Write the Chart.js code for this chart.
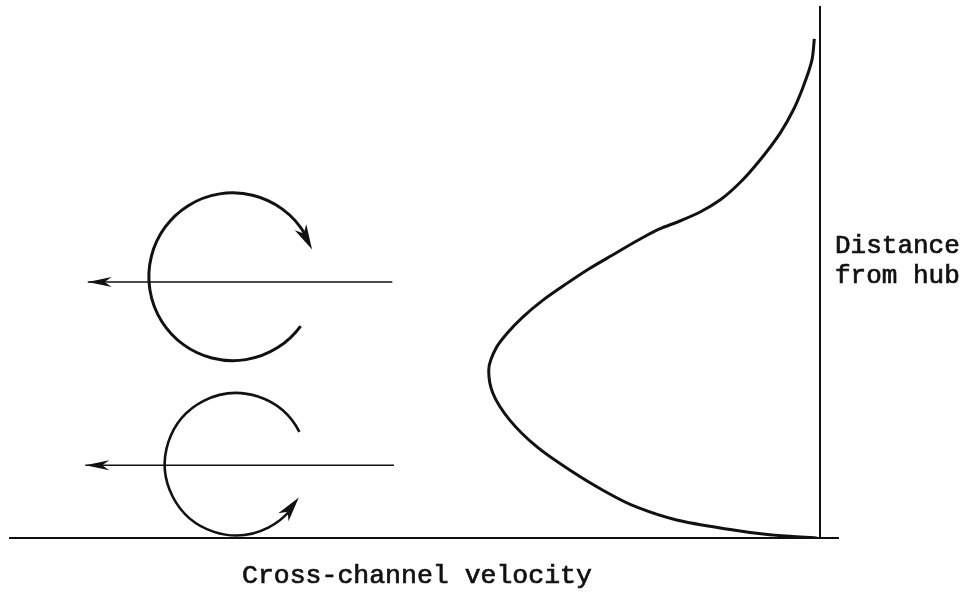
<!DOCTYPE html>
<html><head><meta charset="utf-8">
<script src="https://cdn.jsdelivr.net/npm/chart.js@4"></script>
<style>html,body{margin:0;padding:0;background:#fff}#wrap{width:968px;height:603px}</style>
</head><body><div id="wrap"><canvas id="c" width="968" height="603"></canvas></div>
<script>
// Velocity profile (cross-channel velocity, negative = toward left) vs distance from hub
const profileVelocity = [-0.004,-0.062,-0.123,-0.177,-0.226,-0.268,-0.309,-0.349,-0.383,-0.404,-0.409,-0.399,-0.386,-0.367,-0.342,-0.312,-0.284,-0.256,-0.222,-0.198,-0.173,-0.148,-0.123,-0.099,-0.074,-0.049,-0.033,-0.021,-0.010,-0.007];
const profileDistance = [0,0.006,0.019,0.034,0.058,0.090,0.128,0.171,0.222,0.273,0.316,0.360,0.386,0.416,0.448,0.480,0.508,0.533,0.563,0.582,0.597,0.614,0.637,0.669,0.712,0.763,0.806,0.849,0.900,0.940];
// Flow arrows
const flowArrowY = [0.482, 0.137];
const flowArrowFromX = [-0.528, -0.526];
const flowArrowToX = [-0.904, -0.907];
// Vortices
const vortexCenterX = [-0.725, -0.721];
const vortexCenterY = [0.492, 0.139];
const vortexRadius = [0.158, 0.134];
const vortexStartDeg = [36, -27];
const vortexEndDeg = [341, 28];
const vortexCounter = [false, true];
// Labels
const xAxisLabel = 'Cross-channel velocity';
const yAxisLabel = ['Distance', 'from hub'];

const INK = '#111';

function head(ctx, tx, ty, dx, dy, len, hw, notch) {
  const m = Math.hypot(dx, dy); dx /= m; dy /= m;
  const px = -dy, py = dx;
  const bx = tx - dx * len, by = ty - dy * len;
  ctx.beginPath();
  ctx.moveTo(tx, ty);
  ctx.lineTo(bx + px * hw, by + py * hw);
  ctx.lineTo(tx - dx * len * notch, ty - dy * len * notch);
  ctx.lineTo(bx - px * hw, by - py * hw);
  ctx.closePath();
  ctx.fill();
}

function label(ctx, text, x0, y0) {
  ctx.fillText(text, x0, y0);
  ctx.strokeText(text, x0, y0);
}

const decor = {
  id: 'decor',
  afterDatasetsDraw(chart) {
    const {ctx, scales: {x, y}} = chart;
    ctx.save();
    ctx.fillStyle = INK; ctx.strokeStyle = INK;
    // flow arrow heads
    for (let i = 0; i < flowArrowY.length; i++) {
      const tx = x.getPixelForValue(flowArrowToX[i]);
      const ty = y.getPixelForValue(flowArrowY[i]);
      head(ctx, tx, ty, -1, 0, 24, 5, 0.7);
    }
    // vortices
    for (let i = 0; i < vortexCenterX.length; i++) {
      const cx = x.getPixelForValue(vortexCenterX[i]);
      const cy = y.getPixelForValue(vortexCenterY[i]);
      const r = y.getPixelForValue(0) - y.getPixelForValue(vortexRadius[i]);
      const a0 = vortexStartDeg[i] * Math.PI / 180;
      const a1 = vortexEndDeg[i] * Math.PI / 180;
      const ccw = vortexCounter[i];
      const len = 25;
      const back = (len * 0.6) / r;
      const aStop = ccw ? a1 + back : a1 - back;
      ctx.lineWidth = i === 0 ? 3 : 2.6;
      ctx.beginPath();
      ctx.arc(cx, cy, r, a0, aStop, ccw);
      ctx.stroke();
      const tipX = cx + r * Math.cos(a1), tipY = cy + r * Math.sin(a1);
      const ab = ccw ? a1 + len / r : a1 - len / r;
      const bX = cx + r * Math.cos(ab), bY = cy + r * Math.sin(ab);
      head(ctx, tipX, tipY, tipX - bX, tipY - bY, len, 6.5, 0.72);
    }
    // labels
    ctx.textBaseline = 'alphabetic';
    ctx.textAlign = 'left';
    ctx.lineWidth = 0.7;
    ctx.font = '26px "Liberation Mono", "DejaVu Sans Mono", monospace';
    label(ctx, yAxisLabel[0], 835, 253);
    label(ctx, yAxisLabel[1], 835, 283);
    ctx.font = '26.5px "Liberation Mono", "DejaVu Sans Mono", monospace';
    label(ctx, xAxisLabel, 242, 583);
    ctx.restore();
  }
};

const datasets = [{
  data: profileVelocity.map((v, i) => ({x: v, y: profileDistance[i]})),
  indexAxis: 'y', cubicInterpolationMode: 'monotone',
  borderColor: INK, borderWidth: 3, pointRadius: 0, showLine: true, fill: false
}];
for (let i = 0; i < flowArrowY.length; i++) {
  datasets.push({
    data: [{x: flowArrowFromX[i], y: flowArrowY[i]}, {x: flowArrowToX[i], y: flowArrowY[i]}],
    borderColor: INK, borderWidth: 1.5, pointRadius: 0, showLine: true, tension: 0
  });
}

new Chart(document.getElementById('c'), {
  type: 'scatter',
  data: {datasets},
  options: {
    responsive: false, animation: false, devicePixelRatio: 1,
    layout: {padding: {left: 10, right: 130, top: 7, bottom: 57}},
    plugins: {legend: {display: false}, tooltip: {enabled: false}},
    scales: {
      x: {type: 'linear', min: -1, max: 0.0222, ticks: {display: false}, grid: {display: false},
          border: {display: true, color: INK, width: 2}},
      y: {type: 'linear', position: {x: 0}, min: 0, max: 1, ticks: {display: false}, grid: {display: false},
          border: {display: true, color: INK, width: 2}}
    }
  },
  plugins: [decor]
});
</script></body></html>
